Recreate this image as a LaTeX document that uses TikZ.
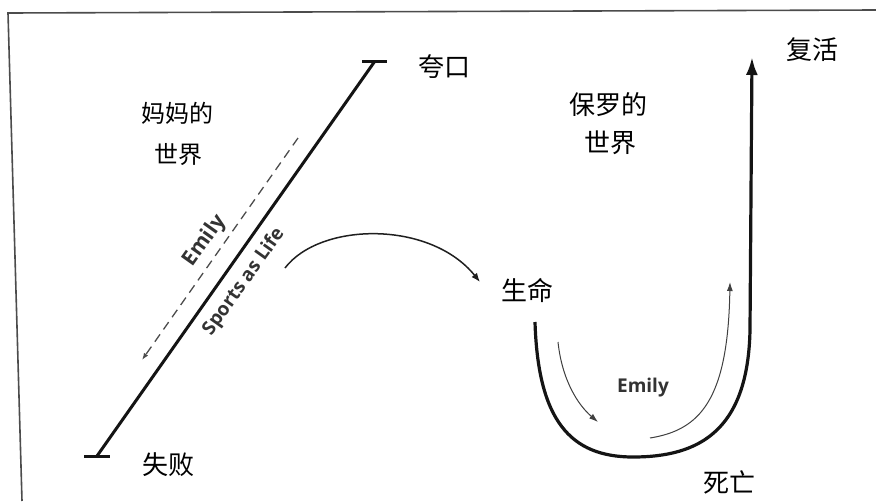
\documentclass[tikz,border=0pt]{standalone}
\usepackage{fontspec}
\newfontfamily\cjk{Noto Sans CJK SC}
\newfontfamily\labelsans{Open Sans}
\usetikzlibrary{arrows.meta}
\begin{document}
\begin{tikzpicture}[x=1pt,y=-1pt,
  cn/.style={font=\cjk\fontsize{26}{30}\selectfont, inner sep=0pt, text=black},
  cnsmall/.style={font=\cjk\fontsize{24}{28}\selectfont, inner sep=0pt, text=black},
  lab/.style={font=\labelsans\bfseries\fontsize{19}{22}\selectfont, text=black!80, inner sep=0pt},
  frameline/.style={line width=1.6pt, draw=black!70},
  mainline/.style={line width=3pt, draw=black!92},
  barline/.style={line width=3pt, draw=black!92},
  dashline/.style={line width=1.3pt, draw=black!70, dash pattern=on 9pt off 6pt, -{Latex[length=7pt,width=5pt]}},
  arcarrow/.style={line width=1.5pt, draw=black!88, -{Latex[length=9pt,width=7pt]}},
  uline/.style={line width=3.2pt, draw=black!92, -{Latex[length=18pt,width=12pt]}},
  smallarrow/.style={line width=1pt, draw=black!75, -{Latex[length=9pt,width=6pt]}}
]
\useasboundingbox (0,0) rectangle (876,501);
\fill[white] (0,0) rectangle (876,501);
% frame
\coordinate (fTL) at (8,13);
\coordinate (fTR) at (876,10);
\coordinate (fBL) at (22,501);
\draw[frameline] (fTR) -- (fTL) -- (fBL);
% main diagonal
\coordinate (low) at (97,456);
\coordinate (high) at (375,61);
\coordinate (lowL) at (84,456);
\coordinate (lowR) at (110,456);
\coordinate (highL) at (362,61);
\coordinate (highR) at (387,61);
\draw[mainline] (low) -- (high);
\draw[barline] (lowL) -- (lowR);
\draw[barline] (highL) -- (highR);
% dashed Emily arrow
\coordinate (dStart) at (298,138);
\coordinate (dEnd) at (142,360);
\draw[dashline] (dStart) -- (dEnd);
% rotated labels
\node[lab, rotate=54.6, font=\labelsans\bfseries\fontsize{21}{24}\selectfont] (emilyA) at (205,241) {Emily};
\node[lab, rotate=54.6] (sports) at (244,282) {Sports as Life};
% Chinese labels
\node[cnsmall] (mom1) at (177,113) {妈妈的};
\node[cnsmall] (mom2) at (178,155) {世界};
\node[cn] (kuakou) at (444,67) {夸口};
\node[cn] (shibai) at (168,465) {失败};
\node[cn] (paul1) at (608,105) {保罗的};
\node[cn] (paul2) at (610,143) {世界};
\node[cn] (fuhuo) at (812,50) {复活};
\node[cn] (life) at (527,290) {生命};
\node[cn] (death) at (729,482) {死亡};
\node[lab] (emilyB) at (643,388) {Emily};
% arc arrow to life
\coordinate (arcS) at (285,268);
\coordinate (arcE) at (480,282);
\draw[arcarrow] (arcS) .. controls (320,222) and (430,220) .. (arcE);
% U curve
\coordinate (uS) at (535,322);
\coordinate (uB) at (633,457);
\coordinate (uR) at (750,330);
\coordinate (uTop) at (752,57);
\draw[uline] (uS) .. controls (538,420) and (570,457) .. (uB)
  .. controls (700,457) and (748,430) .. (uR) -- (uTop);
% small Emily arrows
\coordinate (a1S) at (558,342);
\coordinate (a1E) at (598,422);
\coordinate (a2S) at (650,438);
\coordinate (a2E) at (730,282);
\draw[smallarrow] (a1S) .. controls (562,380) and (578,405) .. (a1E);
\draw[smallarrow] (a2S) .. controls (700,430) and (728,400) .. (a2E);
\end{tikzpicture}
\end{document}
